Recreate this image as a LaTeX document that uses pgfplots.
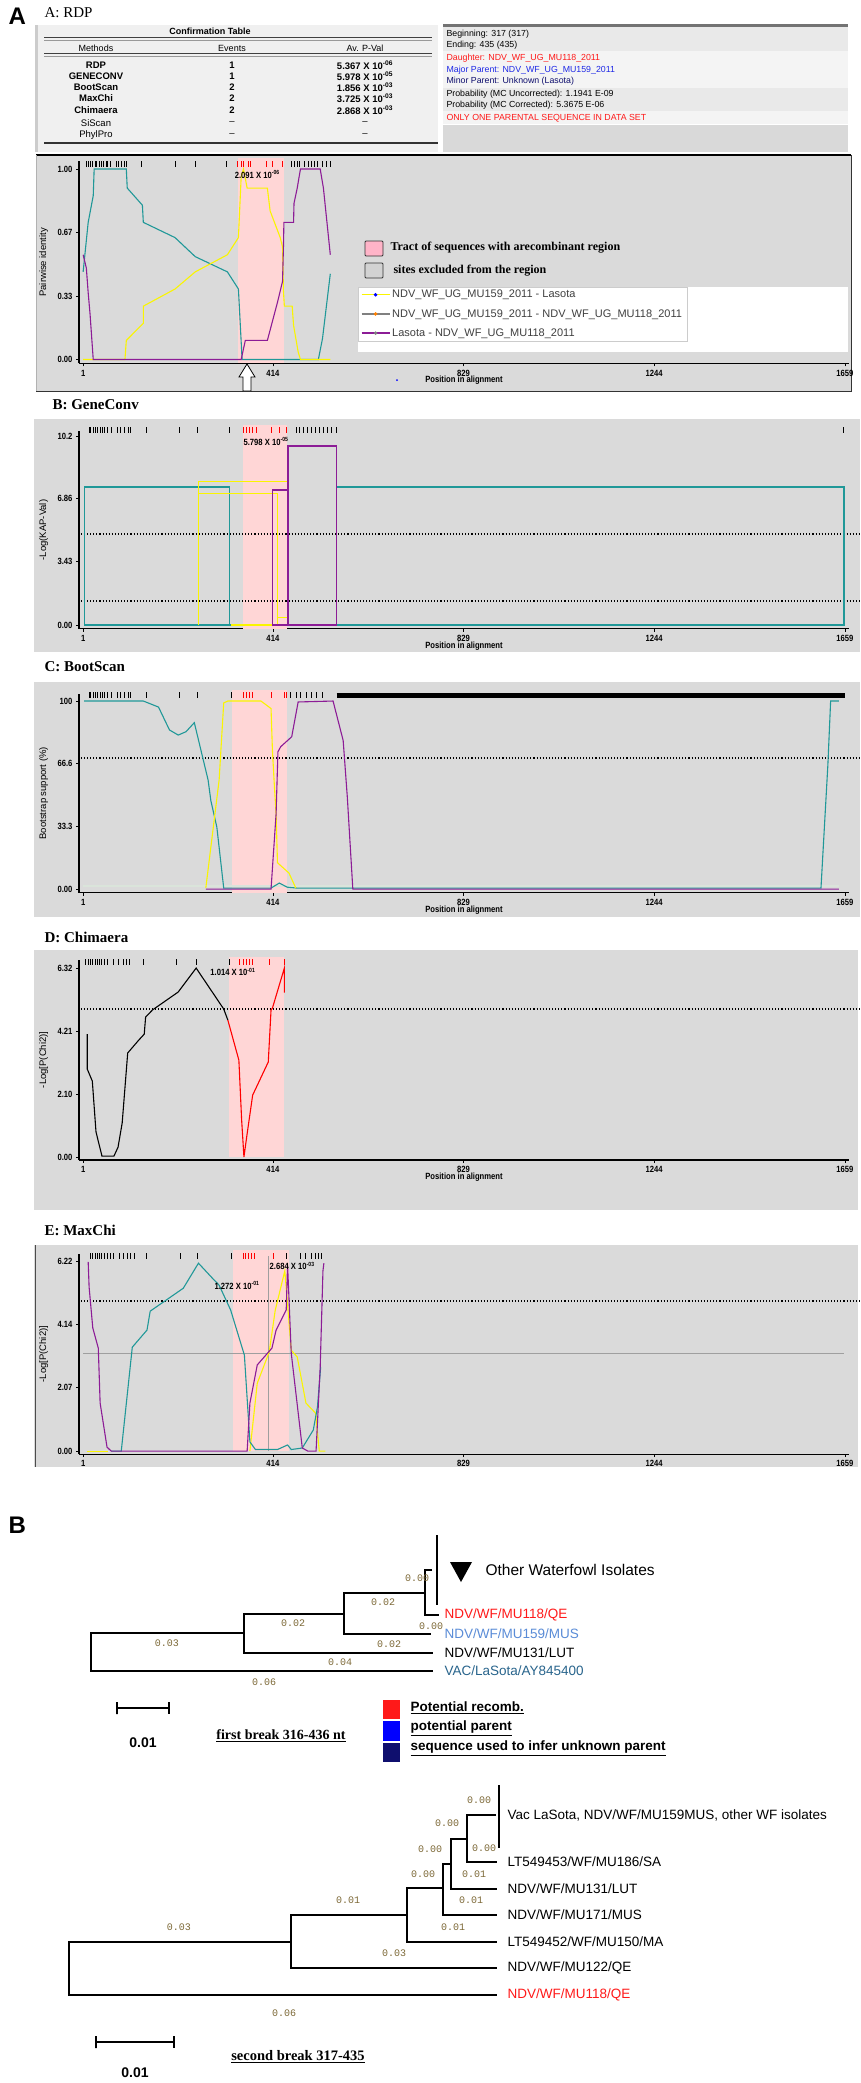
\documentclass[border=0pt]{standalone}
\usepackage{pgfplots}
\pgfplotsset{compat=1.18}
\usepackage{fontspec}
\setmainfont{Liberation Sans}
\newfontfamily\serif{Liberation Serif}
\newfontfamily\narrow[FakeStretch=0.85]{Liberation Sans}
\newfontfamily\mono{Liberation Mono}

\definecolor{panelbg}{RGB}{218,218,218}
\definecolor{tract}{RGB}{255,214,214}
\definecolor{tealc}{RGB}{32,152,152}
\definecolor{yelc}{RGB}{250,245,0}
\definecolor{purc}{RGB}{140,28,150}
\definecolor{brc}{RGB}{125,105,55}
\definecolor{lbl}{RGB}{90,140,215}
\definecolor{tbl}{RGB}{40,100,140}
\definecolor{navyc}{RGB}{15,15,110}
\definecolor{redc}{RGB}{255,25,25}
\definecolor{bluec}{RGB}{30,40,230}

\newcommand{\tk}{\narrow\bfseries\fontsize{9}{10}\selectfont}
\newcommand{\lf}{\fontsize{13.5}{15}\selectfont}
\newcommand{\bl}{\mono\fontsize{10}{11}\selectfont\color{brc}}
\newcommand{\pv}[2]{#1 X 10\textsuperscript{#2}}

\pgfplotsset{
  panel/.style={
    scale only axis, width=770pt, xmin=-8, xmax=1668,
    anchor=south west, clip=false,
    axis lines*=left,
    axis line style={black, line width=1.1pt},
    tick style={black, line width=0.7pt},
    major tick length=3pt, tick align=outside,
    xtick={1,414,829,1244,1659},
    xticklabels={1,414,829,1244,1659},
    tick label style={font=\tk},
    xlabel style={font=\tk, at={(axis description cs:0.5,0)}, anchor=center, yshift=-17pt},
    ylabel style={font=\fontsize{9.5}{10}\selectfont, at={(axis description cs:-0.046,0.5)}, anchor=center},
    every axis plot/.append style={line width=1.1pt},
  },
  sites/.style={only marks, mark=|, mark size=3pt, mark options={line width=1pt}, forget plot},
  br/.style={black, solid, line width=1.3pt, mark=none},
}

\begin{document}
\begin{tikzpicture}
\begin{scope}[x=1pt,y=-1pt]
\path (0,0) rectangle (860,2083);
\fill[white] (0,0) rectangle (860,2083);

% ---------- A: header, tables
\node[anchor=west, font=\bfseries\fontsize{24}{24}\selectfont] at (5,16) {A};
\node[anchor=west, font=\serif\fontsize{15}{15}\selectfont] at (41,13) {A: RDP};

\fill[gray!12] (35,25) rectangle (438,152);
\fill[gray!40] (35,25) rectangle (38,152);
\node[font=\bfseries\fontsize{9}{10}\selectfont] at (210,31) {Confirmation Table};
\draw[black!75, line width=1.3pt] (44,37.5) -- (432,37.5);
\draw[black!40, line width=0.6pt] (44,40) -- (432,40);
\begin{scope}[font=\fontsize{9}{10}\selectfont]
\node at (96,48) {Methods};
\node at (232,48) {Events};
\node at (365,48) {Av. P-Val};
\end{scope}
\draw[black!75, line width=1.3pt] (44,53.5) -- (432,53.5);
\draw[black!40, line width=0.6pt] (44,56) -- (432,56);
\begin{scope}[font=\bfseries\fontsize{9.5}{10}\selectfont]
\node at (96,65) {RDP};      \node at (232,65) {1}; \node at (365,65) {\pv{5.367}{-06}};
\node at (96,76) {GENECONV}; \node at (232,76) {1}; \node at (365,76) {\pv{5.978}{-05}};
\node at (96,87) {BootScan}; \node at (232,87) {2}; \node at (365,87) {\pv{1.856}{-03}};
\node at (96,98) {MaxChi};   \node at (232,98) {2}; \node at (365,98) {\pv{3.725}{-03}};
\node at (96,110) {Chimaera};\node at (232,110) {2}; \node at (365,110) {\pv{2.868}{-03}};
\end{scope}
\begin{scope}[font=\fontsize{9.5}{10}\selectfont]
\node at (96,123) {SiScan};  \node at (232,123) {--}; \node at (365,123) {--};
\node at (96,135) {PhylPro}; \node at (232,135) {--}; \node at (365,135) {--};
\end{scope}
\draw[black!80, line width=1.4pt] (44,143) -- (438,143);

% info panel
\fill[gray!17] (443,26) rectangle (848,51);
\fill[gray!9] (443,51) rectangle (848,88);
\fill[gray!17] (443,88) rectangle (848,111);
\fill[gray!9] (443,111) rectangle (848,124);
\fill[gray!30] (443,125) rectangle (848,152);
\fill[black!55] (443,24) rectangle (848,26.5);
\begin{scope}[font=\fontsize{8.8}{9}\selectfont]
\node[anchor=west] at (443,34) {Beginning: 317 (317)};
\node[anchor=west] at (443,45.5) {Ending: 435 (435)};
\node[anchor=west, text=redc] at (443,58) {Daughter: NDV\_WF\_UG\_MU118\_2011};
\node[anchor=west, text=bluec] at (443,70) {Major Parent: NDV\_WF\_UG\_MU159\_2011};
\node[anchor=west, text=navyc] at (443,81.5) {Minor Parent: Unknown (Lasota)};
\node[anchor=west] at (443,94) {Probability (MC Uncorrected): 1.1941 E-09};
\node[anchor=west] at (443,105.5) {Probability (MC Corrected): 5.3675 E-06};
\node[anchor=west, text=redc] at (443,118) {ONLY ONE PARENTAL SEQUENCE IN DATA SET};
\end{scope}

% ---------- RDP panel
\fill[panelbg] (36,155) rectangle (851,391);
\draw[black, line width=1.6pt] (36,155) -- (851,155);
\draw[black!80, line width=1pt] (851,155) -- (851,391) -- (36,391);
\draw[gray!60, line width=1pt] (36,155) -- (36,391);
\fill[white] (358,287) rectangle (848,352);
\filldraw[fill={rgb,255:red,255;green,180;blue,200}, draw=black!80, line width=0.9pt, rounded corners=1pt] (365,241) rectangle (383,256);
\filldraw[fill=gray!35, draw=black!80, line width=0.9pt, rounded corners=1pt] (365,263) rectangle (383,278);
\node[anchor=west, font=\serif\bfseries\fontsize{12}{13}\selectfont] at (387,248) {Tract of sequences with arecombinant region};
\node[anchor=west, font=\serif\bfseries\fontsize{12}{13}\selectfont] at (390,270.5) {sites excluded from the region};
\filldraw[fill=white, draw=black, line width=0.8pt] (247,364) -- (255,377) -- (251,377) -- (251,391) -- (243,391) -- (243,377) -- (239,377) -- cycle;
\fill[blue] (397,380) circle (1pt);

% ---------- other panels
\node[anchor=west, font=\serif\bfseries\fontsize{15}{15}\selectfont] at (49,405) {B: GeneConv};
\fill[panelbg] (34,419) rectangle (860,652);
\node[anchor=west, font=\serif\bfseries\fontsize{15}{15}\selectfont] at (41,667) {C: BootScan};
\fill[panelbg] (34,682) rectangle (860,917);
\node[anchor=west, font=\serif\bfseries\fontsize{15}{15}\selectfont] at (41,937) {D: Chimaera};
\fill[panelbg] (34,950) rectangle (858,1210);
\node[anchor=west, font=\serif\bfseries\fontsize{15}{15}\selectfont] at (41,1230) {E: MaxChi};
\fill[panelbg] (34,1245) rectangle (858,1467);
\draw[black!70, line width=1pt] (35,1245) -- (35,1467);
\end{scope}

% ================= RDP
\begin{axis}[panel, at={(79pt,-363.3pt)}, height=201.9pt, ymin=-0.02, ymax=1.04,
  ytick={0,0.333,0.667,1}, yticklabels={0.00,0.33,0.67,1.00},
  xlabel={Position in alignment}, ylabel={Pairwise identity},
  legend image code/.code={\draw[mark repeat=2,mark phase=2,#1] plot coordinates {(0pt,0pt) (14pt,0pt) (28pt,0pt)};},
  legend style={at={(axis description cs:0.362,0.378)}, anchor=north west, draw=gray!40, fill=white,
    font=\fontsize{11}{12}\selectfont, text=black!75, row sep=6pt, inner xsep=3pt, inner ysep=1pt, cells={anchor=west}}]
\addplot[fill=tract, draw=none, forget plot] coordinates {(338,-0.02)(439,-0.02)(439,1.06)(338,1.06)};
\addplot[sites, black] coordinates {(8,1.026)(12,1.026)(16,1.026)(21,1.026)(27,1.026)(31,1.026)(36,1.026)(40,1.026)(45,1.026)(51,1.026)(55,1.026)(60,1.026)(73,1.026)(77,1.026)(84,1.026)(90,1.026)(95,1.026)(129,1.026)(201,1.026)(245,1.026)(314,1.026)(454,1.026)(460,1.026)(467,1.026)(473,1.026)(482,1.026)(491,1.026)(497,1.026)(504,1.026)(512,1.026)(521,1.026)(530,1.026)(539,1.026)};
\addplot[sites, red] coordinates {(338,1.026)(345,1.026)(351,1.026)(360,1.026)(366,1.026)(401,1.026)(414,1.026)(434,1.026)};
\addplot[tealc, forget plot] coordinates {(1,0.46)(12,0.72)(23,0.86)(25,1.00)(95,1.00)(97,0.90)(130,0.81)(132,0.72)(201,0.64)(245,0.54)(315,0.46)(339,0.37)(347,0)(513,0)(522,0.11)(539,0.45)};
\addplot[yelc, forget plot] coordinates {(1,0)(92,0)(95,0.10)(132,0.19)(132,0.28)(201,0.37)(245,0.46)(315,0.55)(339,0.64)(345,0.96)(350,1.00)(358,0.90)(402,0.90)(408,0.78)(430,0.64)(435,0.59)(437,0.36)(439,0.28)(456,0.28)(459,0.18)(469,0.04)(474,0)(539,0)};
\addplot[purc, forget plot] coordinates {(1,0.55)(8,0.48)(12,0.35)(16,0.24)(23,0)(345,0)(354,0.10)(402,0.10)(424,0.30)(435,0.41)(437,0.59)(438,0.72)(459,0.72)(460,0.82)(467,0.90)(474,1.00)(517,1.00)(524,0.90)(530,0.76)(539,0.55)};
\node[font=\tk] at (axis cs:380,0.97) {\pv{2.091}{-06}};
\addlegendimage{yelc, line width=1.3pt, mark=*, mark options={blue, scale=0.5}}
\addlegendentry{NDV\_WF\_UG\_MU159\_2011 - Lasota}
\addlegendimage{gray, line width=1.3pt, mark=*, mark options={orange, scale=0.5}}
\addlegendentry{NDV\_WF\_UG\_MU159\_2011 - NDV\_WF\_UG\_MU118\_2011}
\addlegendimage{purc, line width=1.3pt, mark=*, mark options={gray, scale=0.5}}
\addlegendentry{Lasota - NDV\_WF\_UG\_MU118\_2011}
\end{axis}

% ================= GeneConv
\begin{axis}[panel, at={(79pt,-628.7pt)}, height=197.3pt, ymin=-0.2, ymax=10.45,
  ytick={0,3.43,6.86,10.2}, yticklabels={0.00,3.43,6.86,10.2},
  xlabel={Position in alignment}, ylabel={-Log(KAP-Val)}]
\addplot[fill=tract, draw=none] coordinates {(349,-0.2)(445,-0.2)(445,10.8)(349,10.8)};
\addplot[sites, black] coordinates {(14,10.52)(18,10.52)(23,10.52)(28,10.52)(33,10.52)(38,10.52)(43,10.52)(48,10.52)(55,10.52)(62,10.52)(75,10.52)(82,10.52)(92,10.52)(100,10.52)(105,10.52)(138,10.52)(210,10.52)(251,10.52)(319,10.52)(465,10.52)(472,10.52)(480,10.52)(490,10.52)(498,10.52)(506,10.52)(515,10.52)(524,10.52)(533,10.52)(542,10.52)(552,10.52)(1655,10.52)};
\addplot[sites, red] coordinates {(349,10.52)(356,10.52)(363,10.52)(370,10.52)(378,10.52)(412,10.52)(428,10.52)(443,10.52)};
\addplot[black, dotted, line width=1.2pt] coordinates {(-4,4.91)(1690,4.91)};
\addplot[black, dotted, line width=1.2pt] coordinates {(-4,1.30)(1690,1.30)};
\addplot[tealc] coordinates {(3,0)(3,7.45)(319,7.45)(319,0)(552,0)(552,7.45)(1657,7.45)(1657,0)(3,0)};
\addplot[yelc] coordinates {(253,0)(253,7.77)(445,7.77)(445,0.39)(425,0.39)};
\addplot[yelc] coordinates {(253,7.12)(425,7.12)(425,0)(323,0)};
\addplot[purc] coordinates {(413,0)(413,7.29)(447,7.29)(447,0)};
\addplot[purc] coordinates {(447,0)(447,9.66)(552,9.66)(552,0)(413,0)};
\node[font=\tk] at (axis cs:399,9.93) {\pv{5.798}{-05}};
\end{axis}

% ================= BootScan
\begin{axis}[panel, at={(79pt,-892.8pt)}, height=199.3pt, ymin=-2, ymax=104,
  ytick={0,33.3,66.6,100}, yticklabels={0.00,33.3,66.6,100},
  xlabel={Position in alignment}, ylabel={Bootstrap support (\%)}]
\addplot[fill=tract, draw=none] coordinates {(325,-2)(445,-2)(445,105.9)(325,105.9)};
\addplot[sites, black] coordinates {(14,103.2)(18,103.2)(23,103.2)(28,103.2)(33,103.2)(38,103.2)(43,103.2)(48,103.2)(55,103.2)(62,103.2)(75,103.2)(82,103.2)(92,103.2)(100,103.2)(105,103.2)(138,103.2)(210,103.2)(251,103.2)(325,103.2)(452,103.2)(465,103.2)(475,103.2)(487,103.2)(499,103.2)(510,103.2)(521,103.2)};
\addplot[sites, red] coordinates {(349,103.2)(356,103.2)(363,103.2)(370,103.2)(412,103.2)(440,103.2)(444,103.2)};
\addplot[black, line width=5pt, forget plot] coordinates {(553,103.2)(1659,103.2)};
\addplot[black, dotted, line width=1.2pt] coordinates {(-4,69.7)(1690,69.7)};
\addplot[green!15!gray!25, line width=1.4pt] coordinates {(1,1.6)(1646,1.6)};
\addplot[tealc] coordinates {(3,100)(132,100)(165,96.8)(189,84.6)(208,81.9)(225,83.7)(243,88.5)(273,58)(279,47)(292,33)(307,0.5)(410,0.5)(428,3.2)(445,1)(467,0.5)(1607,0.5)(1622,66)(1628,100)(1646,100)};
\addplot[yelc] coordinates {(268,0.5)(297,58)(307,99)(316,100)(388,100)(410,96)(413,74)(417,56)(421,40)(424,14)(449,8.5)(464,0.5)};
\addplot[purc] coordinates {(268,0)(410,0)(421,40)(425,73)(431,75.7)(455,81)(469,99.5)(545,100)(567,79)(576,49)(588,0)(1646,0)};
\end{axis}

% ================= Chimaera
\begin{axis}[panel, at={(79pt,-1160pt)}, height=200.3pt, ymin=-0.1, ymax=6.6,
  ytick={0,2.10,4.21,6.32}, yticklabels={0.00,2.10,4.21,6.32},
  xlabel={Position in alignment}, ylabel={-Log[P(Chi2)]}]
\addplot[fill=tract, draw=none] coordinates {(319,0)(439,0)(439,6.69)(319,6.69)};
\addplot[sites, black] coordinates {(7,6.52)(12,6.52)(17,6.52)(22,6.52)(27,6.52)(32,6.52)(37,6.52)(42,6.52)(48,6.52)(55,6.52)(68,6.52)(77,6.52)(88,6.52)(95,6.52)(101,6.52)(132,6.52)(205,6.52)(247,6.52)(319,6.52)};
\addplot[sites, red] coordinates {(342,6.52)(349,6.52)(356,6.52)(363,6.52)(369,6.52)(406,6.52)(439,6.52)};
\addplot[black, dotted, line width=1.2pt] coordinates {(-4,4.95)(1690,4.95)};
\addplot[black] coordinates {(10,4.11)(10,2.94)(21,2.54)(29,0.84)(42,0.03)(68,0.03)(77,0.33)(86,1.14)(98,3.48)(122,3.91)(134,4.11)(137,4.68)(152,4.92)(208,5.52)(247,6.32)(307,4.95)(316,4.58)};
\addplot[red] coordinates {(316,4.58)(340,3.24)(346,1.24)(351,0)(357,0.67)(370,2.07)(404,3.18)(410,4.92)(413,4.98)(439,6.32)(439,5.5)};
\node[font=\tk] at (axis cs:327,6.19) {\pv{1.014}{-01}};
\end{axis}

% ================= MaxChi
\begin{axis}[panel, at={(79pt,-1454.1pt)}, height=200.1pt, ymin=-0.1, ymax=6.45,
  ytick={0,2.07,4.14,6.22}, yticklabels={0.00,2.07,4.14,6.22},
  ylabel={-Log[P(Chi2)]}]
\addplot[fill=tract, draw=none] coordinates {(328,0)(449,0)(449,6.58)(328,6.58)};
\addplot[sites, black] coordinates {(17,6.38)(22,6.38)(27,6.38)(32,6.38)(37,6.38)(42,6.38)(47,6.38)(53,6.38)(60,6.38)(68,6.38)(80,6.38)(88,6.38)(98,6.38)(105,6.38)(112,6.38)(140,6.38)(212,6.38)(251,6.38)(323,6.38)(443,6.38)(475,6.38)(486,6.38)(497,6.38)(507,6.38)(514,6.38)(520,6.38)};
\addplot[sites, red] coordinates {(349,6.38)(355,6.38)(361,6.38)(368,6.38)(375,6.38)(416,6.38)};
\addplot[black, dotted, line width=1.2pt] coordinates {(-4,4.91)(1690,4.91)};
\addplot[gray!75, line width=0.9pt] coordinates {(1,3.18)(1657,3.18)};
\addplot[gray!75, line width=0.9pt] coordinates {(404,0)(404,6.38)};
\addplot[yelc] coordinates {(9,0)(55,0)};
\addplot[yelc] coordinates {(364,0)(380,2.22)(406,3.24)(419,4.6)(440,5.9)(454,3.3)(467,3.08)(486,1.57)(507,1.24)(515,0)(528,0)};
\addplot[tealc] coordinates {(62,0)(84,0)(108,3.4)(140,3.96)(147,4.58)(219,5.33)(252,6.15)(286,5.6)(297,5.43)(322,4.62)(352,3.14)(364,0.3)(376,0.05)(424,0.05)(446,0.2)(454,0.05)(478,0.1)(502,0.69)(511,1.44)(518,2.75)};
\addplot[purc] coordinates {(12,6.19)(14,5.37)(22,4.03)(34,3.37)(38,1.57)(53,0.13)(62,0)(358,0)(364,1.57)(380,2.82)(412,3.37)(421,3.96)(443,4.62)(446,6.1)(454,3.2)(478,0.1)(490,0)(508,0)(517,2.75)(523,5.9)(525,6.15)};
\node[font=\tk] at (axis cs:336,5.43) {\pv{1.272}{-01}};
\node[font=\tk] at (axis cs:456,6.06) {\pv{2.684}{-03}};
\end{axis}

% ================= B: trees
\begin{axis}[scale only axis, width=860pt, height=593pt, at={(0pt,-2083pt)}, anchor=south west,
  xmin=0, xmax=860, ymin=1490, ymax=2083, y dir=reverse, hide axis, clip=false]
\node[anchor=west, font=\bfseries\fontsize{24}{24}\selectfont] at (axis cs:5,1525) {B};
% first tree
\addplot[br] coordinates {(437,1535)(437,1605)};
\addplot[br] coordinates {(432,1570)(425,1570)(425,1615)(439,1615)};
\addplot[br] coordinates {(425,1593)(344,1593)(344,1634)(431,1634)};
\addplot[br] coordinates {(344,1614)(244,1614)(244,1653)(433,1653)};
\addplot[br] coordinates {(244,1633)(91,1633)(91,1671)(433,1671)};
\fill (axis cs:450,1562) -- (axis cs:472,1562) -- (axis cs:461,1582) -- cycle;
\node[anchor=west, font=\fontsize{15.5}{17}\selectfont] at (axis cs:482,1570) {Other Waterfowl Isolates};
\node[anchor=west, font=\lf, text=redc] at (axis cs:441,1615) {NDV/WF/MU118/QE};
\node[anchor=west, font=\lf, text=lbl] at (axis cs:441,1634) {NDV/WF/MU159/MUS};
\node[anchor=west, font=\lf] at (axis cs:441,1653) {NDV/WF/MU131/LUT};
\node[anchor=west, font=\lf, text=tbl] at (axis cs:441,1671) {VAC/LaSota/AY845400};
\node[font=\bl] at (axis cs:417,1578) {0.00};
\node[font=\bl] at (axis cs:383,1602) {0.02};
\node[font=\bl] at (axis cs:431,1626) {0.00};
\node[font=\bl] at (axis cs:293,1623) {0.02};
\node[font=\bl] at (axis cs:389,1644) {0.02};
\node[font=\bl] at (axis cs:167,1643) {0.03};
\node[font=\bl] at (axis cs:340,1662) {0.04};
\node[font=\bl] at (axis cs:264,1682) {0.06};
\addplot[br] coordinates {(117,1702)(117,1714)(117,1708)(169,1708)(169,1702)(169,1714)};
\node[font=\bfseries\fontsize{14}{15}\selectfont] at (axis cs:143,1743) {0.01};
\node[font=\serif\bfseries\fontsize{14}{15}\selectfont] at (axis cs:281,1736) {\underline{first break 316-436 nt}};
\fill[redc] (axis cs:383,1700) rectangle (axis cs:400,1719);
\fill[blue] (axis cs:383,1721) rectangle (axis cs:400,1741);
\fill[navyc] (axis cs:383,1743) rectangle (axis cs:400,1762);
\node[anchor=west, font=\bfseries\fontsize{13.5}{15}\selectfont] at (axis cs:407,1708) {\underline{Potential recomb.}};
\node[anchor=west, font=\bfseries\fontsize{13.5}{15}\selectfont] at (axis cs:407,1728) {\underline{potential parent}};
\node[anchor=west, font=\bfseries\fontsize{13.5}{15}\selectfont] at (axis cs:407,1748) {\underline{sequence used to infer unknown parent}};
% second tree
\addplot[br] coordinates {(499,1785)(499,1848)};
\addplot[br] coordinates {(496,1815)(467,1815)(467,1862)(497,1862)};
\addplot[br] coordinates {(467,1839)(451,1839)(451,1889)(497,1889)};
\addplot[br] coordinates {(451,1864)(443,1864)(443,1915)(497,1915)};
\addplot[br] coordinates {(443,1888)(407,1888)(407,1942)(497,1942)};
\addplot[br] coordinates {(407,1915)(291,1915)(291,1968)(497,1968)};
\addplot[br] coordinates {(291,1942)(69,1942)(69,1995)(497,1995)};
\node[anchor=west, font=\lf] at (axis cs:504,1815) {Vac LaSota, NDV/WF/MU159MUS, other WF isolates};
\node[anchor=west, font=\lf] at (axis cs:504,1862) {LT549453/WF/MU186/SA};
\node[anchor=west, font=\lf] at (axis cs:504,1889) {NDV/WF/MU131/LUT};
\node[anchor=west, font=\lf] at (axis cs:504,1915) {NDV/WF/MU171/MUS};
\node[anchor=west, font=\lf] at (axis cs:504,1942) {LT549452/WF/MU150/MA};
\node[anchor=west, font=\lf] at (axis cs:504,1968) {NDV/WF/MU122/QE};
\node[anchor=west, font=\lf, text=redc] at (axis cs:504,1995) {NDV/WF/MU118/QE};
\node[font=\bl] at (axis cs:479,1800) {0.00};
\node[font=\bl] at (axis cs:447,1823) {0.00};
\node[font=\bl] at (axis cs:430,1849) {0.00};
\node[font=\bl] at (axis cs:484,1848) {0.00};
\node[font=\bl] at (axis cs:423,1874) {0.00};
\node[font=\bl] at (axis cs:474,1874) {0.01};
\node[font=\bl] at (axis cs:348,1900) {0.01};
\node[font=\bl] at (axis cs:471,1900) {0.01};
\node[font=\bl] at (axis cs:453,1927) {0.01};
\node[font=\bl] at (axis cs:179,1927) {0.03};
\node[font=\bl] at (axis cs:394,1953) {0.03};
\node[font=\bl] at (axis cs:284,2013) {0.06};
\addplot[br] coordinates {(96,2036)(96,2048)(96,2042)(174,2042)(174,2036)(174,2048)};
\node[font=\serif\bfseries\fontsize{14.5}{16}\selectfont] at (axis cs:298,2057) {\underline{second break 317-435}};
\node[font=\bfseries\fontsize{14}{15}\selectfont] at (axis cs:135,2073) {0.01};
\end{axis}
\end{tikzpicture}
\end{document}
